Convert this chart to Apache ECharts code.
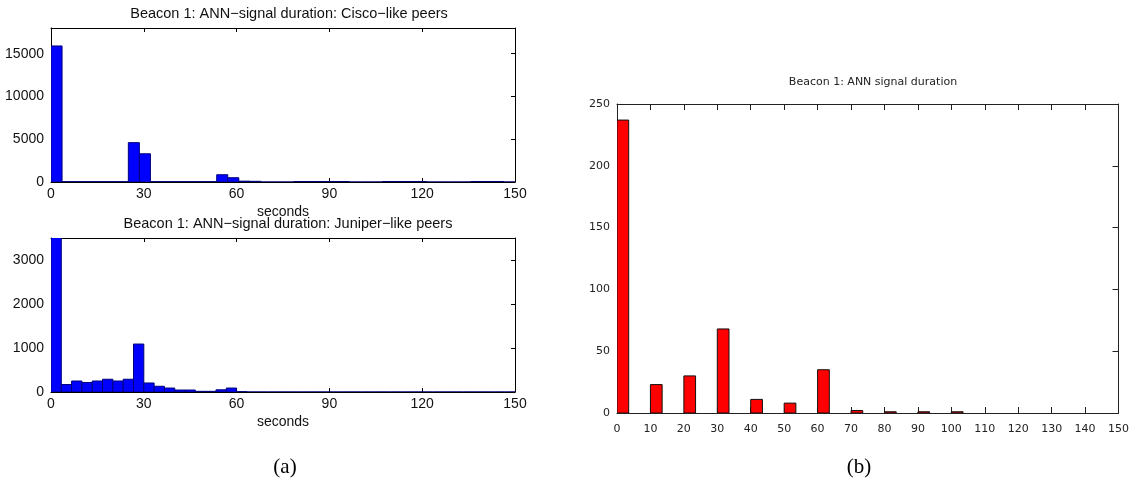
<!DOCTYPE html>
<html>
<head>
<meta charset="utf-8">
<script src="https://cdn.jsdelivr.net/npm/echarts@6/dist/echarts.min.js"></script>
<style>
html,body{margin:0;padding:0;background:#fff;}
#chart{width:1132px;height:481px;}
</style>
</head>
<body>
<div id="chart"></div>
<script>
// ---------- data ----------
var ciscoTitle = 'Beacon 1: ANN\u2212signal duration: Cisco\u2212like peers';
var juniperTitle = 'Beacon 1: ANN\u2212signal duration: Juniper\u2212like peers';
var gnuTitle = 'Beacon 1: ANN signal duration';
var xLabel = 'seconds';

// histogram of Cisco-like peers: 42 bins over 0..150 s
var ciscoBinWidth = 150 / 42;
var ciscoCounts = [15900, 40, 40, 40, 40, 40, 40, 4600, 3300, 40, 40, 40, 40, 40, 40,
  850, 500, 100, 80, 0, 0, 0, 60, 60, 60, 60, 60, 0, 0, 0, 60, 60, 60, 60, 0, 0, 0, 0, 60, 60, 60, 0];

// histogram of Juniper-like peers: 45 bins over 0..150 s
var juniperBinWidth = 150 / 45;
var juniperCounts = [3600, 170, 250, 215, 250, 290, 250, 290, 1090, 205, 130, 90, 45, 45, 15, 15,
  50, 90, 8, 0, 0, 0, 0, 0, 0, 0, 0, 0, 0, 0, 0, 0, 0, 0, 0, 0, 0, 0, 0, 0, 0, 0, 0, 0, 0];

// (b) ANN signal duration
var gnuBinStarts = [0, 10, 20, 30, 40, 50, 60, 70, 80, 90, 100];
var gnuCounts = [237, 23, 30, 68, 11, 8, 35, 2, 1, 1, 1];
var gnuBinWidth = 3.5;

var captions = ['(a)', '(b)'];

// ---------- chart ----------
var chart = echarts.init(document.getElementById('chart'), null, {renderer: 'canvas'});

function histRender(binW, fill, stroke) {
  return function (params, api) {
    var x0 = api.value(0), v = api.value(1);
    var p0 = api.coord([x0, v]);
    var p1 = api.coord([x0 + binW, 0]);
    return {
      type: 'rect',
      shape: {x: p0[0], y: p0[1], width: p1[0] - p0[0], height: p1[1] - p0[1]},
      style: {fill: fill, stroke: stroke, lineWidth: 1}
    };
  };
}

var mlFont = 'Liberation Sans, Arial, sans-serif';
var gnFont = 'DejaVu Sans, sans-serif';
function plain(v) { return String(v); }

function mlX(grid, pos, show) {
  return {
    type: 'value', gridIndex: grid, position: pos, min: 0, max: 150, interval: 30,
    axisLine: {show: true, onZero: false, lineStyle: {color: '#000', width: 1}},
    axisTick: {show: true, inside: true, length: 4, lineStyle: {color: '#000'}},
    axisLabel: {show: show, color: '#111', fontSize: 14, fontFamily: mlFont, margin: 5, formatter: plain},
    splitLine: {show: false},
    name: show ? xLabel : '', nameLocation: 'middle', nameGap: 23,
    nameTextStyle: {color: '#111', fontSize: 14, fontFamily: mlFont}
  };
}
function mlY(grid, pos, show, max, interval) {
  return {
    type: 'value', gridIndex: grid, position: pos, min: 0, max: max, interval: interval,
    axisLine: {show: true, onZero: false, lineStyle: {color: '#000', width: 1}},
    axisTick: {show: true, inside: true, length: 4, lineStyle: {color: '#000'}},
    axisLabel: {show: show, color: '#111', fontSize: 14, fontFamily: mlFont, margin: 7, showMaxLabel: false, formatter: plain},
    splitLine: {show: false}
  };
}
function gnX(pos, show) {
  return {
    type: 'value', gridIndex: 2, position: pos, min: 0, max: 150, interval: 10,
    axisLine: {show: true, onZero: false, lineStyle: {color: '#222', width: 1}},
    axisTick: {show: true, inside: true, length: 6, lineStyle: {color: '#222'}},
    axisLabel: {show: show, color: '#222', fontSize: 11, fontFamily: gnFont, margin: 11, formatter: plain},
    splitLine: {show: false}
  };
}
function gnY(pos, show) {
  return {
    type: 'value', gridIndex: 2, position: pos, min: 0, max: 250, interval: 50,
    axisLine: {show: true, onZero: false, lineStyle: {color: '#222', width: 1}},
    axisTick: {show: true, inside: true, length: 6, lineStyle: {color: '#222'}},
    axisLabel: {show: show, color: '#222', fontSize: 11, fontFamily: gnFont, margin: 7, formatter: plain},
    splitLine: {show: false}
  };
}

var option = {
  backgroundColor: '#fff',
  animation: false,
  title: [
    {text: ciscoTitle, left: 284, top: 1, textAlign: 'center',
      textStyle: {fontSize: 14.5, fontWeight: 'normal', color: '#111', fontFamily: mlFont}},
    {text: juniperTitle, left: 283, top: 211, textAlign: 'center',
      textStyle: {fontSize: 14.5, fontWeight: 'normal', color: '#111', fontFamily: mlFont}},
    {text: gnuTitle, left: 868, top: 72, textAlign: 'center',
      textStyle: {fontSize: 11, fontWeight: 'normal', color: '#222', fontFamily: gnFont}},
    {text: captions[0], left: 280, top: 452, textAlign: 'center',
      textStyle: {fontSize: 21, fontWeight: 'normal', color: '#000', fontFamily: 'Liberation Serif, serif'}},
    {text: captions[1], left: 854, top: 452, textAlign: 'center',
      textStyle: {fontSize: 21, fontWeight: 'normal', color: '#000', fontFamily: 'Liberation Serif, serif'}}
  ],
  grid: [
    {left: 51, top: 28, width: 464, height: 154},
    {left: 51, top: 238, width: 464, height: 154},
    {left: 617, top: 104, width: 502, height: 309}
  ],
  xAxis: [
    mlX(0, 'bottom', true), mlX(0, 'top', false),
    mlX(1, 'bottom', true), mlX(1, 'top', false),
    gnX('bottom', true), gnX('top', false)
  ],
  yAxis: [
    mlY(0, 'left', true, 18000, 5000), mlY(0, 'right', false, 18000, 5000),
    mlY(1, 'left', true, 3500, 1000), mlY(1, 'right', false, 3500, 1000),
    gnY('left', true), gnY('right', false)
  ],
  series: [
    {
      type: 'custom', xAxisIndex: 0, yAxisIndex: 0, clip: true,
      renderItem: histRender(ciscoBinWidth, '#0000ff', '#00007a'),
      data: ciscoCounts.map(function (c, i) { return [i * ciscoBinWidth, c]; })
    },
    {
      type: 'custom', xAxisIndex: 2, yAxisIndex: 2, clip: true,
      renderItem: histRender(juniperBinWidth, '#0000ff', '#00007a'),
      data: juniperCounts.map(function (c, i) { return [i * juniperBinWidth, c]; })
    },
    {
      type: 'custom', xAxisIndex: 4, yAxisIndex: 4, clip: true,
      renderItem: histRender(gnuBinWidth, '#ff0000', '#111'),
      data: gnuBinStarts.map(function (s, i) { return [s, gnuCounts[i]]; })
    }
  ]
};
chart.setOption(option);
</script>
</body>
</html>
